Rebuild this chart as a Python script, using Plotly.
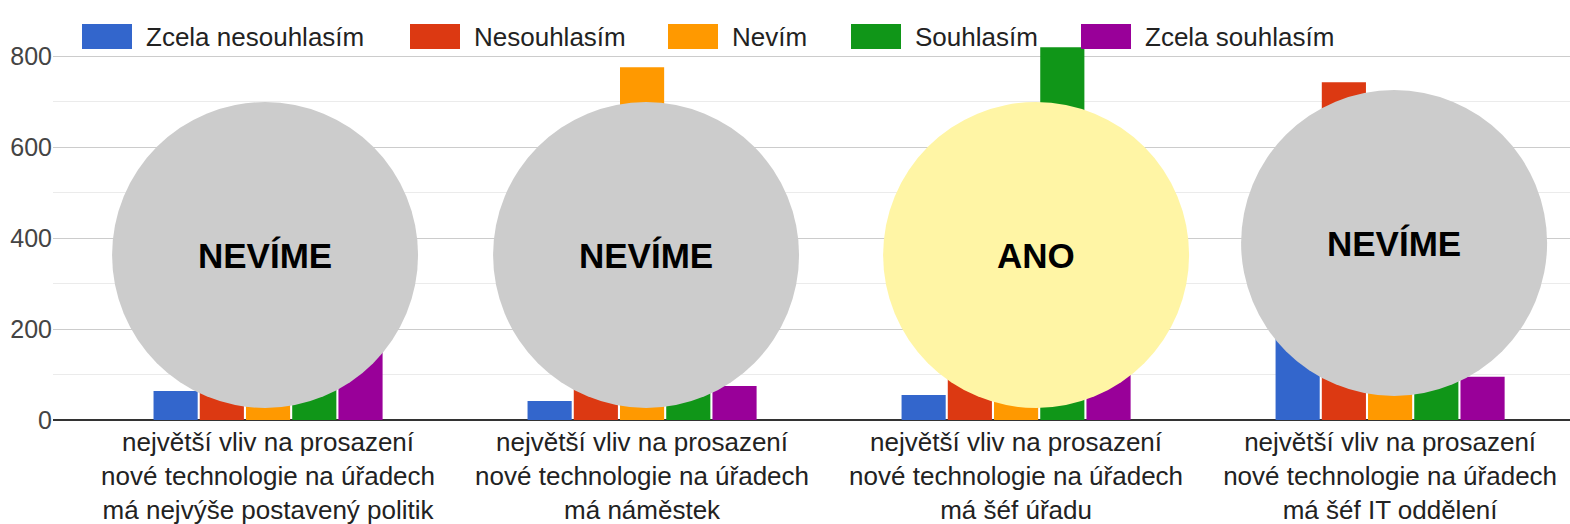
import plotly.graph_objects as go

# survey answers per statement
categories = [
    "největší vliv na prosazení<br>nové technologie na úřadech<br>má nejvýše postavený politik",
    "největší vliv na prosazení<br>nové technologie na úřadech<br>má náměstek",
    "největší vliv na prosazení<br>nové technologie na úřadech<br>má šéf úřadu",
    "největší vliv na prosazení<br>nové technologie na úřadech<br>má šéf IT oddělení",
]
series_names = ["Zcela nesouhlasím", "Nesouhlasím", "Nevím", "Souhlasím", "Zcela souhlasím"]
zcela_nesouhlasim = [64, 42, 55, 230]
nesouhlasim = [330, 320, 150, 743]
nevim = [480, 776, 230, 260]
souhlasim = [380, 285, 820, 172]
zcela_souhlasim = [245, 75, 245, 95]
verdicts = ["NEVÍME", "NEVÍME", "ANO", "NEVÍME"]

values = [zcela_nesouhlasim, nesouhlasim, nevim, souhlasim, zcela_souhlasim]
colors = ["#3366cc", "#dc3912", "#ff9900", "#109618", "#990099"]

W, H = 1570, 524
YMAX = 902
L, R, T, B = 53, 0, 10, 104
pw, ph = W - L - R, H - T - B

def px(x):
    return (x - L) / pw

def py(y):
    return (H - B - y) / ph

font = "Liberation Sans, Arial, sans-serif"

fig = go.Figure()
for name, vals, col in zip(series_names, values, colors):
    fig.add_trace(go.Bar(x=list(range(len(categories))), y=vals, name=name,
                         marker_color=col, marker_line_width=0))

fig.update_layout(
    width=W, height=H,
    margin=dict(l=L, r=R, t=T, b=B, autoexpand=False),
    paper_bgcolor="white", plot_bgcolor="white",
    barmode="group", bargap=0.382, bargroupgap=0.045,
    showlegend=False,
    font=dict(family=font, size=26, color="#222222"),
)
fig.update_xaxes(
    tickmode="array", tickvals=list(range(len(categories))), ticktext=categories,
    range=[-0.575, 3.481], showgrid=False, showline=False, ticks="",
    ticklabelstandoff=4, automargin=False,
    tickfont=dict(size=26, color="#222222"),
)
fig.update_yaxes(
    range=[0, YMAX], tick0=0, dtick=200, showline=False, ticks="",
    gridcolor="#cccccc", gridwidth=1, automargin=False,
    minor=dict(dtick=100, showgrid=True, gridcolor="#ebebeb", gridwidth=1),
    zeroline=True, zerolinecolor="#333333", zerolinewidth=2,
    tickfont=dict(size=25, color="#444444"),
)

# legend drawn by hand (big swatches)
legend_x = [82, 410, 668, 851, 1081]
for name, col, lx in zip(series_names, colors, legend_x):
    fig.add_shape(type="rect", xref="paper", yref="paper",
                  x0=px(lx), x1=px(lx + 50), y0=py(49), y1=py(24),
                  fillcolor=col, line_width=0, layer="above")
    fig.add_annotation(xref="paper", yref="paper", x=px(lx + 62), y=py(37),
                       text=name, showarrow=False, xanchor="left", yanchor="middle",
                       font=dict(size=26, color="#222222"))

# verdict circles over each group
circle_fill = ["#cccccc", "#cccccc", "#fff5a5", "#cccccc"]
circle_dx = [-3, 4, 20, 4]
circle_cy = [255, 255, 255, 243]
rad = 153
for i, (txt, fc, dx, cy) in enumerate(zip(verdicts, circle_fill, circle_dx, circle_cy)):
    yv = (H - B - cy) / ph * YMAX
    fig.add_shape(type="circle", xref="x", yref="y", xsizemode="pixel", ysizemode="pixel",
                  xanchor=i, yanchor=yv, x0=dx - rad, x1=dx + rad, y0=-rad, y1=rad,
                  fillcolor=fc, line_width=0, layer="above")
    fig.add_annotation(x=i, y=yv, xshift=dx, text="<b>" + txt + "</b>", showarrow=False,
                       font=dict(size=35, color="#000000"))

# page has a default 8px body margin, drop it so the figure fills the window
fig.write_html("out.html", config={"displayModeBar": False},
               post_script="document.body.style.margin='0';")
